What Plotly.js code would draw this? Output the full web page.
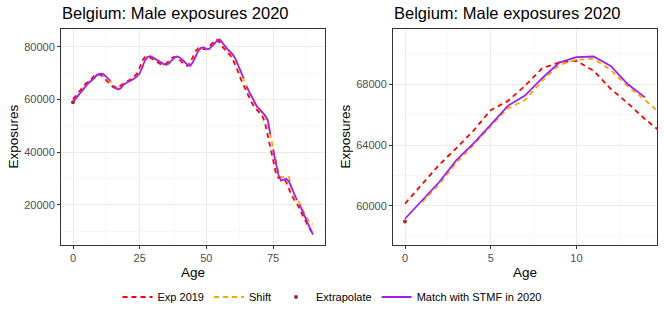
<!DOCTYPE html>
<html><head><meta charset="utf-8">
<script src="https://cdn.plot.ly/plotly-3.0.1.min.js"></script>
<style>html,body{margin:0;padding:0;background:#fff}#chart{width:664px;height:313px}</style>
</head><body><div id="chart"></div>
<script>
const ages = [0,1,2,3,4,5,6,7,8,9,10,11,12,13,14,15,16,17,18,19,20,21,22,23,24,25,26,27,28,29,
  30,31,32,33,34,35,36,37,38,39,40,41,42,43,44,45,46,47,48,49,50,51,52,53,54,55,56,57,58,59,
  60,61,62,63,64,65,66,67,68,69,70,71,72,73,74,75,76,77,78,79,80,81,82,83,84,85,86,87,88,89,90];

const exp2019 = [60130,61450,62700,63800,64950,66300,66900,67900,69050,69450,69550,68900,67700,66750,65700,
  64800,64300,64600,65600,66200,66700,67200,67900,68800,69900,72200,74800,76200,76400,75900,
  75200,74500,73900,73400,73100,73700,74800,75800,76300,75900,75100,74100,73100,72800,74200,
  76300,78400,79600,79700,79200,79100,80100,81200,82200,82800,81700,80100,79000,78000,76800,
  75100,72900,70400,67600,65200,63100,61000,58900,57200,56100,55000,53700,51200,46500,41500,
  37000,32500,30200,30500,30000,28500,26000,23500,21800,20500,18200,16000,14000,12200,10500,9000];

const shift = [null,60240,61410,62840,64000,65245,66414,66965,68220,69280,69610,69675,68950,67850,66965,
  65970,64900,64350,64650,65650,66250,66750,67250,67950,68850,69950,72250,74850,76250,76450,
  75950,75250,74550,73950,73450,73150,73750,74850,75850,76350,75950,75150,74150,73150,72850,
  74250,76350,78450,79650,79750,79250,79150,80150,81250,82250,82850,81750,80150,79050,78050,
  76850,75150,72950,70450,67650,65250,63150,61050,58950,57250,56150,55050,53750,51250,46550,
  41550,37050,32550,30300,30700,30800,30600,26100,23600,21900,20600,18300,16200,14500,13200,12700];

const extrapolateAge = [0];
const extrapolate = [58960];

const matchSTMF = [59140,60350,61560,63000,64110,65320,66580,67260,68400,69430,69790,69830,69210,68000,67140,
  65300,64300,63800,64400,65800,66300,66800,67300,68000,68900,70000,72300,75000,76300,76500,
  76000,75300,74600,74000,73500,73200,73800,74900,75900,76400,76000,75200,74200,73200,72900,
  74300,76400,78500,79700,79800,79300,79200,80200,81300,82300,82900,81600,80200,79100,78100,
  77000,75300,73100,70700,68100,65000,63000,61100,59000,57300,56300,55300,54000,52300,46800,
  41000,36000,31500,29200,29600,29900,28800,26600,24200,21700,20000,17500,15300,13000,10800,8600];

// age groups used for matching (start ages); the matched line is drawn per group
const stmfGroupStarts = [0,15,65,75,85];

const titleText = 'Belgium: Male exposures 2020';
const names = ['Exp 2019','Shift','Extrapolate','Match with STMF in 2020'];
const colors = {exp:'#FF0000', shift:'#FFA500', extra:'#A52A2A', match:'#A020F0'};

const traces = [];
['',  '2'].forEach((s, pi) => {
  const xa = 'x' + s, ya = 'y' + s;
  const show = pi === 0;
  traces.push({x: ages, y: exp2019, xaxis: xa, yaxis: ya, type: 'scatter', mode: 'lines',
    name: names[0], legendgroup: 'a', showlegend: show,
    line: {color: colors.exp, width: 1.8, dash: '5px,4px'}});
  traces.push({x: ages, y: shift, xaxis: xa, yaxis: ya, type: 'scatter', mode: 'lines',
    name: names[1], legendgroup: 'b', showlegend: show,
    line: {color: colors.shift, width: 1.8, dash: '5px,4px'}});
  traces.push({x: extrapolateAge, y: extrapolate, xaxis: xa, yaxis: ya, type: 'scatter', mode: 'markers',
    name: names[2], legendgroup: 'c', showlegend: show,
    marker: {color: colors.extra, size: 4}});
  stmfGroupStarts.forEach((st, gi) => {
    const en = gi < stmfGroupStarts.length - 1 ? stmfGroupStarts[gi + 1] : ages.length;
    traces.push({x: ages.slice(st, en), y: matchSTMF.slice(st, en), xaxis: xa, yaxis: ya,
      type: 'scatter', mode: 'lines', name: names[3], legendgroup: 'd',
      showlegend: show && gi === 0,
      line: {color: colors.match, width: 1.8}});
  });
});

const H = 313, W = 664;
const px = v => v / W, py = v => (H - v) / H;
const font = 'Liberation Sans, Arial, sans-serif';
const axisBase = {
  showline: true, mirror: true, linecolor: '#333333', linewidth: 1,
  ticks: 'outside', ticklen: 3, tickcolor: '#333333', tickwidth: 1,
  showgrid: true, gridcolor: '#ebebeb', gridwidth: 1, zeroline: false,
  tickfont: {family: font, size: 11, color: '#4d4d4d'}, tickformat: 'd'
};
const minor = d => ({dtick: d, tick0: 0, showgrid: true, gridcolor: '#f4f4f4', gridwidth: 0.6, ticks: ''});

const layout = {
  width: W, height: H, margin: {l: 0, r: 0, t: 0, b: 0},
  paper_bgcolor: '#ffffff', plot_bgcolor: '#ffffff',
  font: {family: font, color: '#000000'},
  showlegend: true,
  legend: {orientation: 'h', x: 0.5, xanchor: 'center', y: py(297), yanchor: 'middle',
    font: {family: font, size: 11, color: '#000000'}, itemwidth: 30, traceorder: 'normal'},
  xaxis: Object.assign({}, axisBase, {domain: [px(61), px(325)], range: [-4.5, 94.5],
    tick0: 0, dtick: 25, minor: minor(12.5), anchor: 'y'}),
  yaxis: Object.assign({}, axisBase, {domain: [py(245), py(29)], range: [4677, 86844],
    tick0: 0, dtick: 20000, minor: minor(10000), anchor: 'x'}),
  xaxis2: Object.assign({}, axisBase, {domain: [px(393), px(657)], range: [-0.7, 14.7],
    tick0: 0, dtick: 5, minor: minor(2.5), anchor: 'y2'}),
  yaxis2: Object.assign({}, axisBase, {domain: [py(245), py(29)], range: [57410, 71644],
    tick0: 0, dtick: 4000, minor: minor(2000), anchor: 'x2'}),
  annotations: [
    {text: titleText, xref: 'paper', yref: 'paper', x: px(60), y: py(13.5), xanchor: 'left', yanchor: 'middle',
      showarrow: false, font: {family: font, size: 16.5, color: '#000'}},
    {text: titleText, xref: 'paper', yref: 'paper', x: px(392), y: py(13.5), xanchor: 'left', yanchor: 'middle',
      showarrow: false, font: {family: font, size: 16.5, color: '#000'}},
    {text: 'Exposures', xref: 'paper', yref: 'paper', x: px(12.5), y: py(137), xanchor: 'center', yanchor: 'middle',
      textangle: -90, showarrow: false, font: {family: font, size: 13.5, color: '#000'}},
    {text: 'Exposures', xref: 'paper', yref: 'paper', x: px(344.5), y: py(137), xanchor: 'center', yanchor: 'middle',
      textangle: -90, showarrow: false, font: {family: font, size: 13.5, color: '#000'}},
    {text: 'Age', xref: 'paper', yref: 'paper', x: px(193), y: py(272), xanchor: 'center', yanchor: 'middle',
      showarrow: false, font: {family: font, size: 13.5, color: '#000'}},
    {text: 'Age', xref: 'paper', yref: 'paper', x: px(525), y: py(272), xanchor: 'center', yanchor: 'middle',
      showarrow: false, font: {family: font, size: 13.5, color: '#000'}}
  ]
};

Plotly.newPlot('chart', traces, layout, {staticPlot: true, displayModeBar: false});
</script></body></html>
